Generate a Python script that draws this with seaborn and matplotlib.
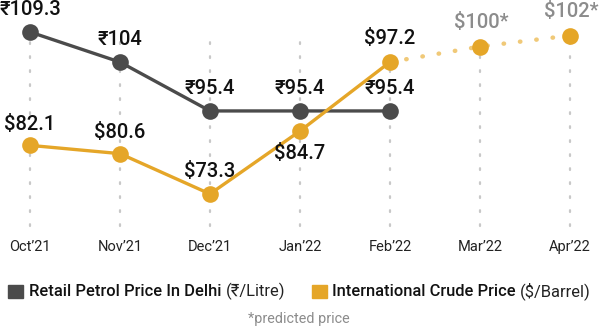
import numpy as np
import pandas as pd
import matplotlib
matplotlib.use("Agg")
import matplotlib.pyplot as plt
import seaborn as sns
from matplotlib.patches import Rectangle

sns.set_theme(style="white")
plt.rcParams['font.family'] = ['Roboto', 'DejaVu Sans']

months = ["Oct\u201921", "Nov\u201921", "Dec\u201921", "Jan\u201922", "Feb\u201922", "Mar\u201922", "Apr\u201922"]
petrol = [109.3, 104, 95.4, 95.4, 95.4]
crude = [82.1, 80.6, 73.3, 84.7, 97.2]
crude_pred = [100, 102]
petrol_labels = ["\u20b9109.3", "\u20b9104", "\u20b995.4", "\u20b995.4", "\u20b995.4"]
crude_labels = ["$82.1", "$80.6", "$73.3", "$84.7", "$97.2"]
pred_labels = ["$100*", "$102*"]

PETROL = "#4b4b4b"
CRUDE = "#e5a628"
CRUDE_LIGHT = "#f0c978"
GREY = "#8c8c8c"

W, H = 600, 330
fig = plt.figure(figsize=(6, 3.3), dpi=100)
top_px, bot_px = 20, 230
ax = fig.add_axes([0, 1 - bot_px / H, 1, (bot_px - top_px) / H])
ax2 = ax.twinx()

xs = np.arange(len(months))
n = len(petrol)
df_p = pd.DataFrame({"x": xs[:n], "v": petrol})
df_c = pd.DataFrame({"x": xs[:n], "v": crude})
df_f = pd.DataFrame({"x": xs[n - 1:], "v": [crude[-1]] + crude_pred})

# vertical dotted guides
for x in xs:
    ax.axvline(x, ymin=(bot_px - 226) / (bot_px - top_px), ymax=(bot_px - 30) / (bot_px - top_px),
               color="#c8c8c8", lw=1.6, ls=(0, (0.8, 5.5)), dash_capstyle="round", zorder=0)

sns.lineplot(data=df_p, x="x", y="v", ax=ax, color=PETROL, lw=2.4, marker="o",
             markersize=12, markeredgewidth=0, zorder=3)
sns.lineplot(data=df_f, x="x", y="v", ax=ax2, color=CRUDE_LIGHT, lw=3.2,
             ls=(0, (0.1, 3.6)), dash_capstyle="round", zorder=2)
sns.lineplot(x=xs[n:], y=crude_pred, ax=ax2, color=CRUDE, lw=0, marker="o",
             markersize=12, markeredgewidth=0, zorder=3)
sns.lineplot(data=df_c, x="x", y="v", ax=ax2, color=CRUDE, lw=2.4, marker="o",
             markersize=12, markeredgewidth=0, zorder=3)

# scales (two different value scales, as in the reference)
ax.set_ylim(74.44, 111.41)
ax2.set_ylim(66.77, 104.81)
ax.set_xlim(-1 / 3, len(months) - 1 + 1 / 3)

fs = 14.5
for x, v, t in zip(xs[:n], petrol, petrol_labels):
    ax.annotate(t, (x, v), xytext=(0, 16), textcoords="offset points", ha="center",
                va="center", fontsize=fs, fontweight="medium", color="#111111", zorder=5)
crude_off = [15, 15, 16, -16, 17]
for x, v, t, o in zip(xs[:n], crude, crude_labels, crude_off):
    ax2.annotate(t, (x, v), xytext=(0, o), textcoords="offset points", ha="center",
                 va="center", fontsize=fs, fontweight="medium", color="#111111", zorder=5)
for x, v, t in zip(xs[n:], crude_pred, pred_labels):
    ax2.annotate(t, (x, v), xytext=(1, 17), textcoords="offset points", ha="center",
                 va="center", fontsize=fs, fontweight="medium", color=GREY, zorder=5)

ax.set_xticks(xs)
ax.set_xticklabels(months, fontsize=10.5, color="#222222")
ax.tick_params(axis="x", length=0, pad=7)
ax.set_yticks([])
ax2.set_yticks([])
ax.set_xlabel("")
ax.set_ylabel("")
ax2.set_ylabel("")
for a in (ax, ax2):
    for s in a.spines.values():
        s.set_visible(False)
    if a.get_legend():
        a.get_legend().remove()

# legend
def fx(px):
    return px / W

def fy(py):
    return 1 - py / H

fig.patches.append(Rectangle((fx(8), fy(298)), fx(15), 13 / H, transform=fig.transFigure,
                             color=PETROL, zorder=5))
fig.patches.append(Rectangle((fx(312), fy(298)), fx(15), 13 / H, transform=fig.transFigure,
                             color=CRUDE, zorder=5))

renderer = fig.canvas.get_renderer()
lfs = 11.9
def two_part(xpx, bold, normal):
    t1 = fig.text(fx(xpx), fy(291), bold, fontsize=lfs, fontweight="medium",
                  color="#111111", va="center", ha="left")
    bb = t1.get_window_extent(renderer)
    fig.text(bb.x1 / W + fx(4), fy(291), normal, fontsize=lfs, color="#222222",
             va="center", ha="left")

two_part(29, "Retail Petrol Price In Delhi", "(\u20b9/Litre)")
two_part(332, "International Crude Price", "($/Barrel)")

fig.text(fx(299), fy(319), "*predicted price", fontsize=10.4, color=GREY, ha="center", va="center")

fig.savefig("out.png", dpi=100)
